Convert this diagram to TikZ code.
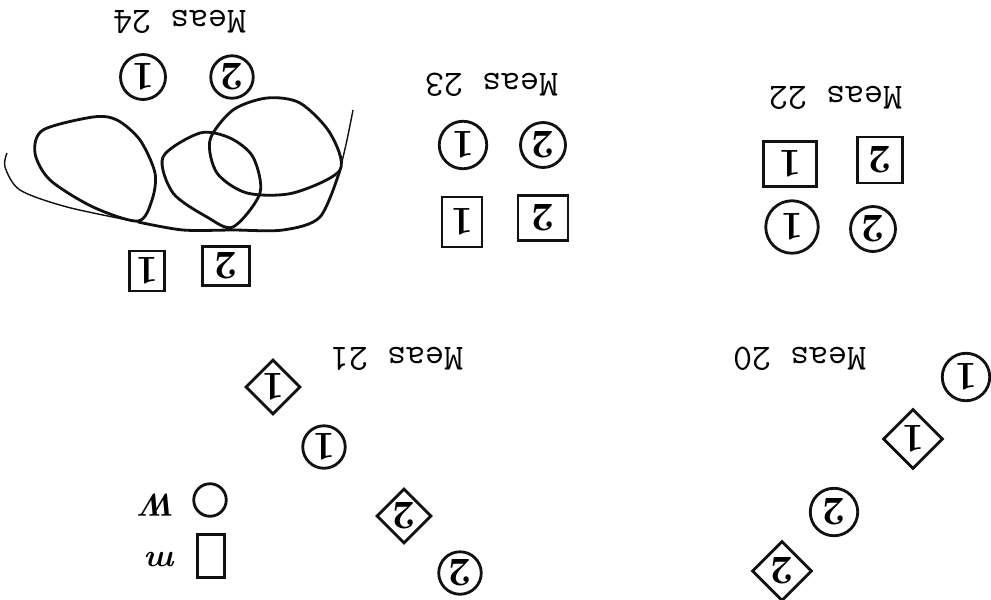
\documentclass[tikz,border=0pt]{standalone}
\usepackage{tikz}
\usetikzlibrary{shapes.geometric}
\definecolor{Ink}{HTML}{111111}

\begin{document}
\begin{tikzpicture}[x=0.02cm,y=-0.02cm,
  every node/.style={draw=Ink,line width=1.6pt,inner sep=0pt,rotate=180,
  font=\fontsize{23}{25}\selectfont\bfseries},
  circ/.style={circle,minimum size=0.9cm},
  sqr/.style={rectangle,minimum width=0.85cm,minimum height=0.85cm},
  dmd/.style={diamond,aspect=1,minimum size=1.1cm},
  meas/.style={draw=none,font=\fontsize{21}{24}\selectfont\ttfamily},
  scrawl/.style={draw=Ink,line width=1.6pt}]
  \useasboundingbox[fill=white] (0,0) rectangle (991,599);
  % Meas 24
  \node[meas] (t24) at (180,22) {Meas 24};
  \node[circ,minimum size=0.9cm] (c24a) at (143,77) {1};
  \node[circ,minimum size=0.85cm] (c24b) at (232,77) {2};
  \node[sqr,minimum width=0.7cm,minimum height=0.8cm] (s24a) at (147,271) {1};
  \node[sqr,minimum width=0.95cm,minimum height=0.78cm] (s24b) at (226,266) {2};
  \draw[scrawl] plot[smooth cycle] coordinates {(93,117) (43,130) (35,153)
    (50,180) (93,207) (138,221) (152,200) (155,173) (140,140) (117,120)};
  \draw[scrawl] plot[smooth cycle] coordinates {(200,133) (163,157) (173,193)
    (207,217) (233,227) (260,193) (253,157) (230,138)};
  \draw[scrawl] plot[smooth cycle] coordinates {(267,98) (233,110) (210,140)
    (217,173) (247,193) (293,193) (340,170) (330,133) (300,103)};
  \draw[scrawl,line width=0.8pt] plot[smooth] coordinates {(7,153) (5,167)
    (20,190) (67,207) (138,222)};
  \draw[scrawl] plot[smooth] coordinates {(138,222) (183,230) (233,230)
    (283,230) (320,217) (340,170)};
  \draw[scrawl,line width=0.8pt] plot[smooth] coordinates {(340,170) (347,140)
    (353,110)};
  % Meas 23
  \node[meas] (t23) at (492,85) {Meas 23};
  \node[circ,minimum size=0.95cm] (c23a) at (463,145) {1};
  \node[circ,minimum size=0.9cm] (c23b) at (543,145) {2};
  \node[sqr,minimum width=0.8cm,minimum height=1.0cm] (s23a) at (462,222) {1};
  \node[sqr,minimum width=1.0cm,minimum height=0.9cm] (s23b) at (543,218) {2};
  % Meas 22
  \node[meas] (t22) at (836,98) {Meas 22};
  \node[sqr,minimum width=1.05cm,minimum height=0.9cm] (s22a) at (790,164) {1};
  \node[sqr,minimum width=0.9cm,minimum height=0.92cm] (s22b) at (880,160) {2};
  \node[circ,minimum size=1.05cm] (c22a) at (792,227) {1};
  \node[circ,minimum size=0.9cm] (c22b) at (873,229) {2};
  % Meas 21
  \node[meas] (t21) at (397,359) {Meas 21};
  \node[dmd] (d21a) at (273,387) {1};
  \node[circ,minimum size=0.85cm] (c21a) at (324,447) {1};
  \node[dmd] (d21b) at (404,516) {2};
  \node[circ,minimum size=0.85cm] (c21b) at (460,573) {2};
  \node[circ,minimum size=0.65cm] (lc) at (210,500) {};
  \node[draw=none,font=\fontsize{18}{20}\selectfont\bfseries\itshape] (lw) at (160,505) {W};
  \node[sqr,minimum width=0.55cm,minimum height=0.85cm] (ls) at (211,556) {};
  \node[draw=none,font=\fontsize{18}{20}\selectfont\bfseries\itshape] (lm) at (162,560) {m};
  % Meas 20
  \node[meas] (t20) at (800,359) {Meas 20};
  \node[circ,minimum size=0.95cm] (c20a) at (966,377) {1};
  \node[dmd,minimum size=1.2cm] (d20a) at (913,439) {1};
  \node[circ,minimum size=0.95cm] (c20b) at (834,512) {2};
  \node[dmd,minimum size=1.2cm] (d20b) at (782,571) {2};
\end{tikzpicture}
\end{document}
